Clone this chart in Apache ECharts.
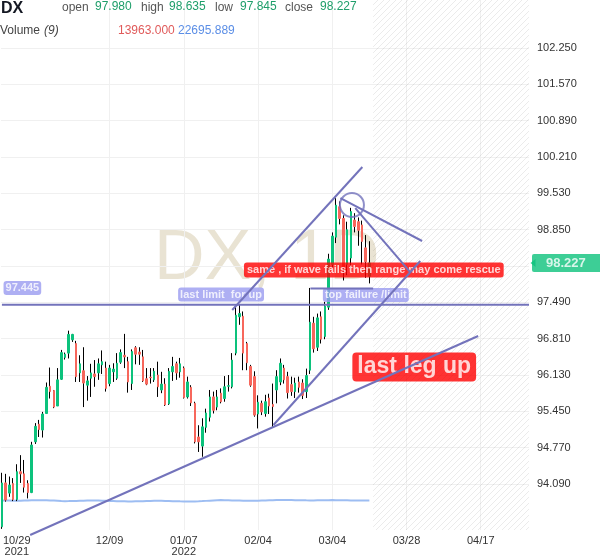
<!DOCTYPE html>
<html><head><meta charset="utf-8">
<script src="https://cdn.jsdelivr.net/npm/echarts@6/dist/echarts.min.js"></script>
<style>html,body{margin:0;padding:0;background:#fff}#c{width:600px;height:558px}</style>
</head><body><div id="c"></div>
<script>
// ---- data: [open, high, low, close] per daily bar ----
const ohlc = [
[93.29,94.30,93.25,94.11],[94.11,94.28,93.76,93.79],[93.92,94.23,93.85,94.07],[94.10,94.20,93.77,93.80],[93.80,94.46,93.77,94.32],
[94.32,94.63,94.11,94.28],[94.28,94.54,93.93,94.03],[94.10,94.16,93.82,93.93],[93.93,94.88,93.92,94.82],[94.88,95.23,94.84,95.17],
[95.21,95.29,94.97,95.11],[95.10,95.44,94.96,95.40],[95.41,95.99,95.40,95.90],[95.92,96.27,95.69,95.82],[95.84,95.85,95.51,95.53],
[95.55,96.26,95.55,96.04],[96.05,96.60,96.04,96.55],[96.46,96.55,96.42,96.52],[96.54,96.96,96.44,96.89],[96.79,96.90,96.75,96.89],
[96.72,96.77,96.00,96.10],[96.17,96.50,96.00,96.34],[96.21,96.65,95.53,95.98],[95.94,96.11,95.65,96.02],[96.07,96.34,95.72,96.17],
[96.15,96.41,95.91,96.10],[96.17,96.44,96.04,96.34],[96.32,96.59,96.15,96.38],[96.26,96.38,95.82,95.88],[95.97,96.32,95.92,96.26],
[96.19,96.35,96.00,96.24],[96.07,96.54,96.04,96.35],[96.37,96.61,96.34,96.55],[96.50,96.90,96.26,96.47],[96.38,96.47,95.80,96.00],
[95.97,96.61,95.85,96.57],[96.64,96.67,96.33,96.52],[96.56,96.65,96.32,96.52],[96.47,96.60,96.00,96.02],[96.06,96.26,95.94,95.96],
[96.09,96.26,95.97,96.08],[96.04,96.26,96.00,96.20],[96.13,96.38,95.72,95.91],[95.85,96.19,95.79,95.96],[95.96,96.07,95.55,95.57],
[95.59,96.26,95.57,96.20],[96.19,96.47,96.02,96.29],[96.34,96.38,96.04,96.17],[96.19,96.45,96.08,96.34],[96.26,96.29,95.69,95.71],
[95.72,96.10,95.69,96.00],[95.90,95.94,95.55,95.61],[95.60,95.63,94.85,94.88],[94.97,95.19,94.69,94.88],[94.80,95.32,94.60,95.16],
[95.15,95.50,95.05,95.42],[95.34,95.85,95.26,95.72],[95.72,95.82,95.41,95.47],[95.53,95.85,95.47,95.72],[95.79,95.88,95.60,95.63],
[95.69,96.11,95.63,95.91],[95.92,96.13,95.82,95.93],[95.91,96.54,95.88,96.41],[96.54,97.42,96.50,97.25],[97.22,97.44,97.07,97.28],
[97.23,97.32,96.22,96.54],[96.72,96.75,96.22,96.36],[96.29,96.32,95.91,95.94],[96.10,96.20,95.35,95.38],[95.40,95.75,95.13,95.62],
[95.60,95.65,95.38,95.44],[95.41,95.76,95.35,95.63],[95.70,95.78,95.40,95.55],[95.58,95.97,95.15,95.54],[95.85,96.22,95.60,96.10],
[96.00,96.44,95.94,96.35],[96.26,96.32,95.97,96.04],[96.10,96.19,95.69,95.80],[95.95,96.10,95.74,95.82],[95.82,96.08,95.70,95.98],
[96.00,96.10,95.80,95.90],[95.98,96.05,95.68,95.75],[95.82,96.25,95.70,96.12],[96.22,97.76,96.15,97.12],[97.10,97.22,96.55,96.62],
[96.65,97.28,96.58,97.20],[97.22,97.32,96.72,96.80],[96.85,97.50,96.80,97.42],[97.40,98.40,97.35,98.30],[98.20,98.80,98.10,98.73],
[98.71,99.44,98.60,99.31],[99.28,99.38,98.95,99.06],[99.06,99.12,97.90,98.15],[98.20,99.00,98.00,98.85],[98.32,99.26,98.10,99.19],
[99.03,99.16,98.80,98.91],[99.00,99.08,98.55,98.84],[98.94,99.02,98.20,98.63],[98.51,98.75,97.95,98.25],[97.98,98.635,97.845,98.227]
];
const volumeMA = [
22700,22680,22640,22600,22560,22600,22680,22760,22840,22900,
22950,22900,22850,22780,22650,22480,22300,22200,22250,22320,
22400,22480,22560,22640,22700,22680,22620,22540,22460,22380,
22300,22220,22150,22080,22000,21980,22050,22120,22200,22280,
22360,22440,22520,22460,22380,22300,22220,22140,22060,22000,
21960,21940,22000,22100,22250,22420,22600,22780,22920,23000,
22950,22880,22800,22720,22640,22560,22480,22460,22520,22600,
22680,22760,22840,22920,23000,23060,23100,23060,23000,22940,
22900,22860,22820,22800,22800,22840,22880,22920,22960,23000,
22960,22920,22880,22840,22800,22760,22730,22710,22700,22695.889
];
const totalSlots = 143;                 // bars + empty future slots
const tickLabels = [[4,'10/29\n2021'],[29,'12/09'],[49,'01/07\n2022'],[69,'02/04'],[89,'03/04'],[109,'03/28'],[129,'04/17']];
const vGridIdx = [29,49,69,89,109,129];
const yTickStart = 94.09, yTickStep = 0.68, yLabelMax = 102.25;
const lastPrice = 98.227;
const levelPrice = 97.445;
const header = {symbol:'DX', open:'97.980', high:'98.635', low:'97.845', close:'98.227', vol:'13963.000', volMA:'22695.889'};
// drawings: [barIndex, price]
const trendLines = [
  [[7.61,93.135],[128.3,96.86]],
  [[73.16,95.194],[112.7,98.264]],
  [[62.05,97.347],[97.1,100.024]],
  [[91.2,99.443],[113.2,98.639]],
  [[95.2,99.256],[110.0,98.058]]
];
const topFailureLine = [[83.1,97.75],[100.0,97.75]];
const circleMark = [94.3,99.313];
const futureStart = 100;
const notes = [
  {text:'97.445', at:[5.51,97.759], kind:'lav'},
  {text:'last limit  for up', at:[59.04,97.637], kind:'lav'},
  {text:'top failure /limit', at:[98.04,97.628], kind:'lav'},
  {text:'same , if wave fails then range may come rescue', at:[100.19,98.096], kind:'red'},
  {text:'last leg up', at:[111.08,96.28], kind:'big'}
];

// ---- layout ----
const FONT = '"Liberation Sans", Arial, sans-serif';
const UP = '#0cc27c', DOWN = '#f7675c', LINE = '#7373bb', LAV = '#9a9bf0';
const plotLeft = 1, plotWidth = 528, plotHeight = 530, baseY = 484;
const k = 53.42; // px per price unit
const gridATop = baseY - (yLabelMax - yTickStart) * k;
const dataMin = yTickStart - (plotHeight - baseY) / k;
const dataMax = yTickStart + baseY / k;
const volMax = 408000;
const tagHalfPx = 14; // price-scale labels hidden behind the last-price tag

const categories = Array.from({length: totalSlots}, (_, i) => String(i));
const labelMap = {}; tickLabels.forEach(([i, t]) => labelMap[i] = t);

const pat = document.createElement('canvas'); pat.width = 6; pat.height = 6;
const g = pat.getContext('2d'); g.strokeStyle = 'rgba(0,0,0,0.08)'; g.lineWidth = 1;
g.beginPath(); g.moveTo(0,6); g.lineTo(6,0); g.moveTo(-1,1); g.lineTo(1,-1); g.moveTo(5,7); g.lineTo(7,5); g.stroke();

const noteStyle = {
  lav: {backgroundColor: LAV, padding:[2,2,1,2], borderRadius:3, fontSize:11},
  red: {backgroundColor: '#ff0000', padding:[2,3,2,3], borderRadius:3, fontSize:11},
  big: {backgroundColor: '#ff0000', padding:[3,5,3,5], borderRadius:4, fontSize:23}
};

const hdr = [];
function txt(x, y, t, fill, font, z) {
  hdr.push({type:'text', left:x, top:y, z:(z === undefined ? 10 : z), style:{text:t, fill:fill, font:font}});
}
const F12 = '12px ' + FONT;
txt(1, 1, header.symbol, '#131722', 'bold 16px ' + FONT);
txt(62, 2, 'open', '#555', F12); txt(95, 1, header.open, '#1e9e6a', F12);
txt(141, 2, 'high', '#555', F12); txt(169, 1, header.high, '#1e9e6a', F12);
txt(215, 2, 'low', '#555', F12); txt(240, 1, header.low, '#1e9e6a', F12);
txt(285, 2, 'close', '#555', F12); txt(320, 1, header.close, '#1e9e6a', F12);
txt(0, 25, 'Volume', '#444', F12); txt(44, 25, '(9)', '#444', 'italic 12px ' + FONT);
txt(118, 25, header.vol, '#e05a5a', F12); txt(178, 25, header.volMA, '#5b8ee6', F12);
txt(154, 225, 'DX, 1D', 'rgba(200,186,145,0.4)', '70px ' + FONT, -1);

const series = [
  {type:'line', xAxisIndex:1, yAxisIndex:2, data: volumeMA, symbol:'none', z:2,
   lineStyle:{color:'#9dbdf2', width:2}},
  {type:'candlestick', name:'wicks', xAxisIndex:1, yAxisIndex:1, z:2, barWidth:1,
   data: ohlc.map(([o,h,l,c]) => [o,c,l,h]),
   itemStyle:{color:'#000', color0:'#000', borderColor:'#000', borderColor0:'#000', borderWidth:1},
   markArea:{silent:true, itemStyle:{color:{image:pat, repeat:'repeat'}},
     data:[[{xAxis:futureStart, yAxis:dataMin},{xAxis:totalSlots-1, yAxis:dataMax}]]}},
  {type:'candlestick', name:'bodies', xAxisIndex:1, yAxisIndex:1, z:3, barWidth:2,
   data: ohlc.map(([o,h,l,c]) => [o,c,Math.min(o,c),Math.max(o,c)]),
   itemStyle:{color:UP, color0:DOWN, borderColor:UP, borderColor0:DOWN, borderWidth:1}},
  {type:'scatter', xAxisIndex:2, yAxisIndex:1, z:5, symbolSize:1, itemStyle:{color:'transparent'},
   data: notes.map(n => ({value:n.at, label:Object.assign({formatter:n.text}, noteStyle[n.kind])})),
   label:{show:true, position:'inside', color:'#fff', fontWeight:'bold', fontFamily:FONT}},
  {type:'line', xAxisIndex:2, yAxisIndex:1, z:6, symbol:'none', clip:false,
   data:[[0,levelPrice],[totalSlots-1,levelPrice]], lineStyle:{color:LINE, width:2}},
  {type:'line', xAxisIndex:2, yAxisIndex:1, z:6, symbol:'none', clip:false,
   data: topFailureLine, lineStyle:{color:LINE, width:2}},
  {type:'scatter', xAxisIndex:2, yAxisIndex:1, z:6, symbol:'circle', symbolSize:24,
   data:[circleMark], itemStyle:{color:'rgba(0,0,0,0)', borderColor:LINE, borderWidth:2}},
  // last price tag on the price scale
  {type:'scatter', xAxisIndex:2, yAxisIndex:1, z:20, clip:false, symbol:'triangle', symbolRotate:90,
   symbolSize:[8,5], symbolOffset:[4,0], itemStyle:{color:UP}, data:[[totalSlots-1, lastPrice]]},
  {type:'scatter', xAxisIndex:2, yAxisIndex:1, z:21, clip:false, symbolSize:0,
   data:[[totalSlots-1, lastPrice]],
   label:{show:true, position:'right', distance:3, formatter:String(lastPrice), backgroundColor:UP, color:'#fff',
     fontWeight:'bold', fontSize:13, fontFamily:FONT, padding:[3,16,2,14], borderRadius:2}}
];
trendLines.forEach(tl => series.push({type:'line', xAxisIndex:2, yAxisIndex:1, z:6, symbol:'none', clip:false,
  data: tl, lineStyle:{color:LINE, width:2}}));

const option = {
  animation:false,
  backgroundColor:'#fff',
  grid:[
    {left:plotLeft, width:plotWidth, top:gridATop, height:(yLabelMax - yTickStart)*k},
    {left:plotLeft, width:plotWidth, top:0, height:plotHeight}
  ],
  xAxis:[
    {type:'value', gridIndex:0, show:false, min:0, max:1},
    {type:'category', gridIndex:1, data:categories, boundaryGap:false,
     axisLine:{show:false}, axisTick:{show:false},
     axisLabel:{interval:(i) => labelMap[i] !== undefined, formatter:(v,i) => labelMap[i] || '',
       fontSize:11, color:'#333', lineHeight:11, margin:5, fontFamily:FONT},
     splitLine:{show:true, interval:(i) => vGridIdx.includes(i), lineStyle:{color:'#f0f0f0', width:1}}},
    {type:'value', gridIndex:1, show:false, min:0, max:totalSlots-1}
  ],
  yAxis:[
    {type:'value', gridIndex:0, position:'right', min:yTickStart, max:yLabelMax, interval:yTickStep,
     axisLine:{show:false}, axisTick:{show:false},
     axisLabel:{formatter:v => (Math.abs(v - lastPrice) * k < tagHalfPx ? '' : v.toFixed(3)),
       fontSize:11, color:'#333', margin:8, fontFamily:FONT, padding:[0,0,6,0]},
     splitLine:{lineStyle:{color:'#f0f0f0', width:1}}},
    {type:'value', gridIndex:1, show:false, min:dataMin, max:dataMax, splitLine:{show:false}},
    {type:'value', gridIndex:1, show:false, min:0, max:volMax, splitLine:{show:false}}
  ],
  graphic: hdr,
  series: series
};
const chart = echarts.init(document.getElementById('c'));
chart.setOption(option);
</script></body></html>
